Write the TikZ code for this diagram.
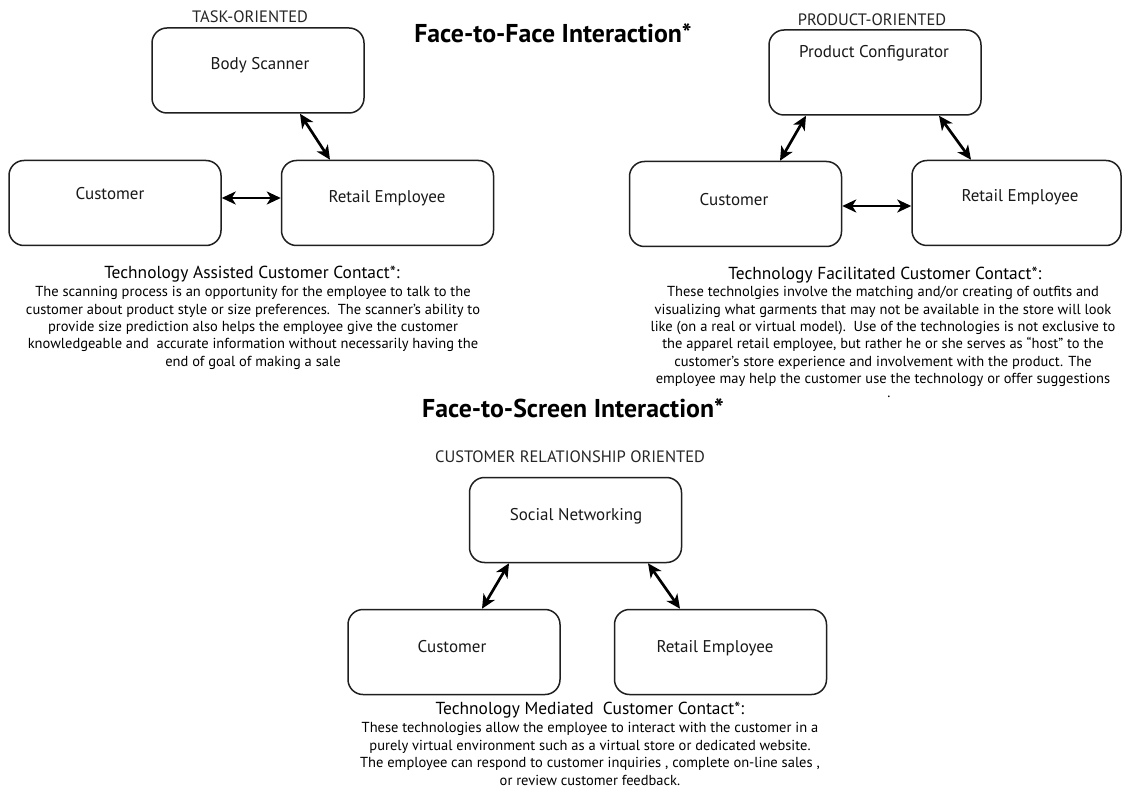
\documentclass[tikz,border=0pt]{standalone}
\usepackage{fontspec}
\setmainfont{PT Sans}
\usetikzlibrary{arrows.meta}
\begin{document}
\begin{tikzpicture}[x=1pt,y=-1pt,
  box/.style={draw=black!88, line width=1.5pt, rounded corners=15pt,
    minimum width=212pt, minimum height=85pt, inner sep=0pt},
  lbl/.style={font=\fontsize{17}{20}\selectfont, text=black!90, inner sep=0pt},
  tag/.style={font=\fontsize{16.5}{19}\selectfont, text=black!85, inner sep=0pt},
  ttl/.style={font=\bfseries\fontsize{25.8}{30}\selectfont, inner sep=0pt},
  caphead/.style={font=\fontsize{17.4}{20}\selectfont, inner sep=0pt},
  body/.style={font=\fontsize{14.5}{17.4}\selectfont, align=center, inner sep=0pt},
  stray/.style={font=\fontsize{14.5}{17.4}\selectfont, inner sep=0pt},
  arr/.style={line width=2.7pt,
    {Stealth[length=14pt,width=13pt,inset=4pt]}-{Stealth[length=14pt,width=13pt,inset=4pt]}},
]
\useasboundingbox[fill=white] (0,0) rectangle (1123,791);

% titles
\node[ttl] (t1) at (553,33) {Face-to-Face Interaction*};
\node[ttl] (t2) at (573,408) {Face-to-Screen Interaction*};

% task-oriented group
\node[tag] (g1) at (250,17) {TASK-ORIENTED};
\node[box] (bs) at (258,70.5) {};
\node[box] (cu1) at (115,203) {};
\node[box] (re1) at (387.5,203) {};
\node[lbl] (bsl) at (260,65) {Body Scanner};
\node[lbl] (cu1l) at (110,194) {Customer};
\node[lbl] (re1l) at (387,198) {Retail Employee};
\draw[arr] (bs.south -| 300,0) -- (re1.north -| 330,0);
\draw[arr] (cu1.east |- 0,198) -- (re1.west |- 0,198);

% product-oriented group
\node[tag] (g2) at (872,20) {PRODUCT-ORIENTED};
\node[box] (pc) at (875,72.5) {};
\node[box] (cu2) at (735.5,204) {};
\node[box, minimum width=209pt] (re2) at (1016.5,203) {};
\node[lbl] (pcl) at (874,53) {Product Configurator};
\node[lbl] (cu2l) at (734,200) {Customer};
\node[lbl] (re2l) at (1020,197) {Retail Employee};
\draw[arr] (pc.south -| 806,0) -- (cu2.north -| 780,0);
\draw[arr] (pc.south -| 939,0) -- (re2.north -| 971,0);
\draw[arr] (cu2.east |- 0,206) -- (re2.west |- 0,206);

% customer-relationship group
\node[tag] (g3) at (570,457) {CUSTOMER RELATIONSHIP ORIENTED};
\node[box] (sn) at (575.5,520) {};
\node[box] (cu3) at (454,652) {};
\node[box] (re3) at (720.5,652) {};
\node[lbl] (snl) at (576,516) {Social Networking};
\node[lbl] (cu3l) at (452,647) {Customer};
\node[lbl] (re3l) at (715,648) {Retail Employee};
\draw[arr] (sn.south -| 509,0) -- (cu3.north -| 482,0);
\draw[arr] (sn.south -| 648,0) -- (re3.north -| 680,0);

% captions
\node[caphead] (c1) at (252,274) {Technology Assisted Customer Contact*:};
\node[body] (b1) at (253,328) {The scanning process is an opportunity for the employee to talk to the\\
customer about product style or size preferences.\ \ The scanner’s ability to\\
provide size prediction also helps the employee give the customer\\
knowledgeable and\ \ accurate information without necessarily having the\\
end of goal of making a sale};

\node[caphead] (c2) at (885,275) {Technology Facilitated Customer Contact*:};
\node[body] (b2) at (883,336.5) {These technolgies involve the matching and/or creating of outfits and\\
visualizing what garments that may not be available in the store will look\\
like (on a real or virtual model).\ \ Use of the technologies is not exclusive to\\
the apparel retail employee, but rather he or she serves as “host” to the\\
customer’s store experience and involvement with the product. The\\
employee may help the customer use the technology or offer suggestions};
\node[stray, anchor=base] (dot) at (889,397) {.};

\node[caphead] (c3) at (590,710) {Technology Mediated\ \ Customer Contact*:};
\node[body] (b3) at (590,754) {These technologies allow the employee to interact with the customer in a\\
purely virtual environment such as a virtual store or dedicated website.\\
The employee can respond to customer inquiries , complete on-line sales ,\\
or review customer feedback.};
\end{tikzpicture}
\end{document}
